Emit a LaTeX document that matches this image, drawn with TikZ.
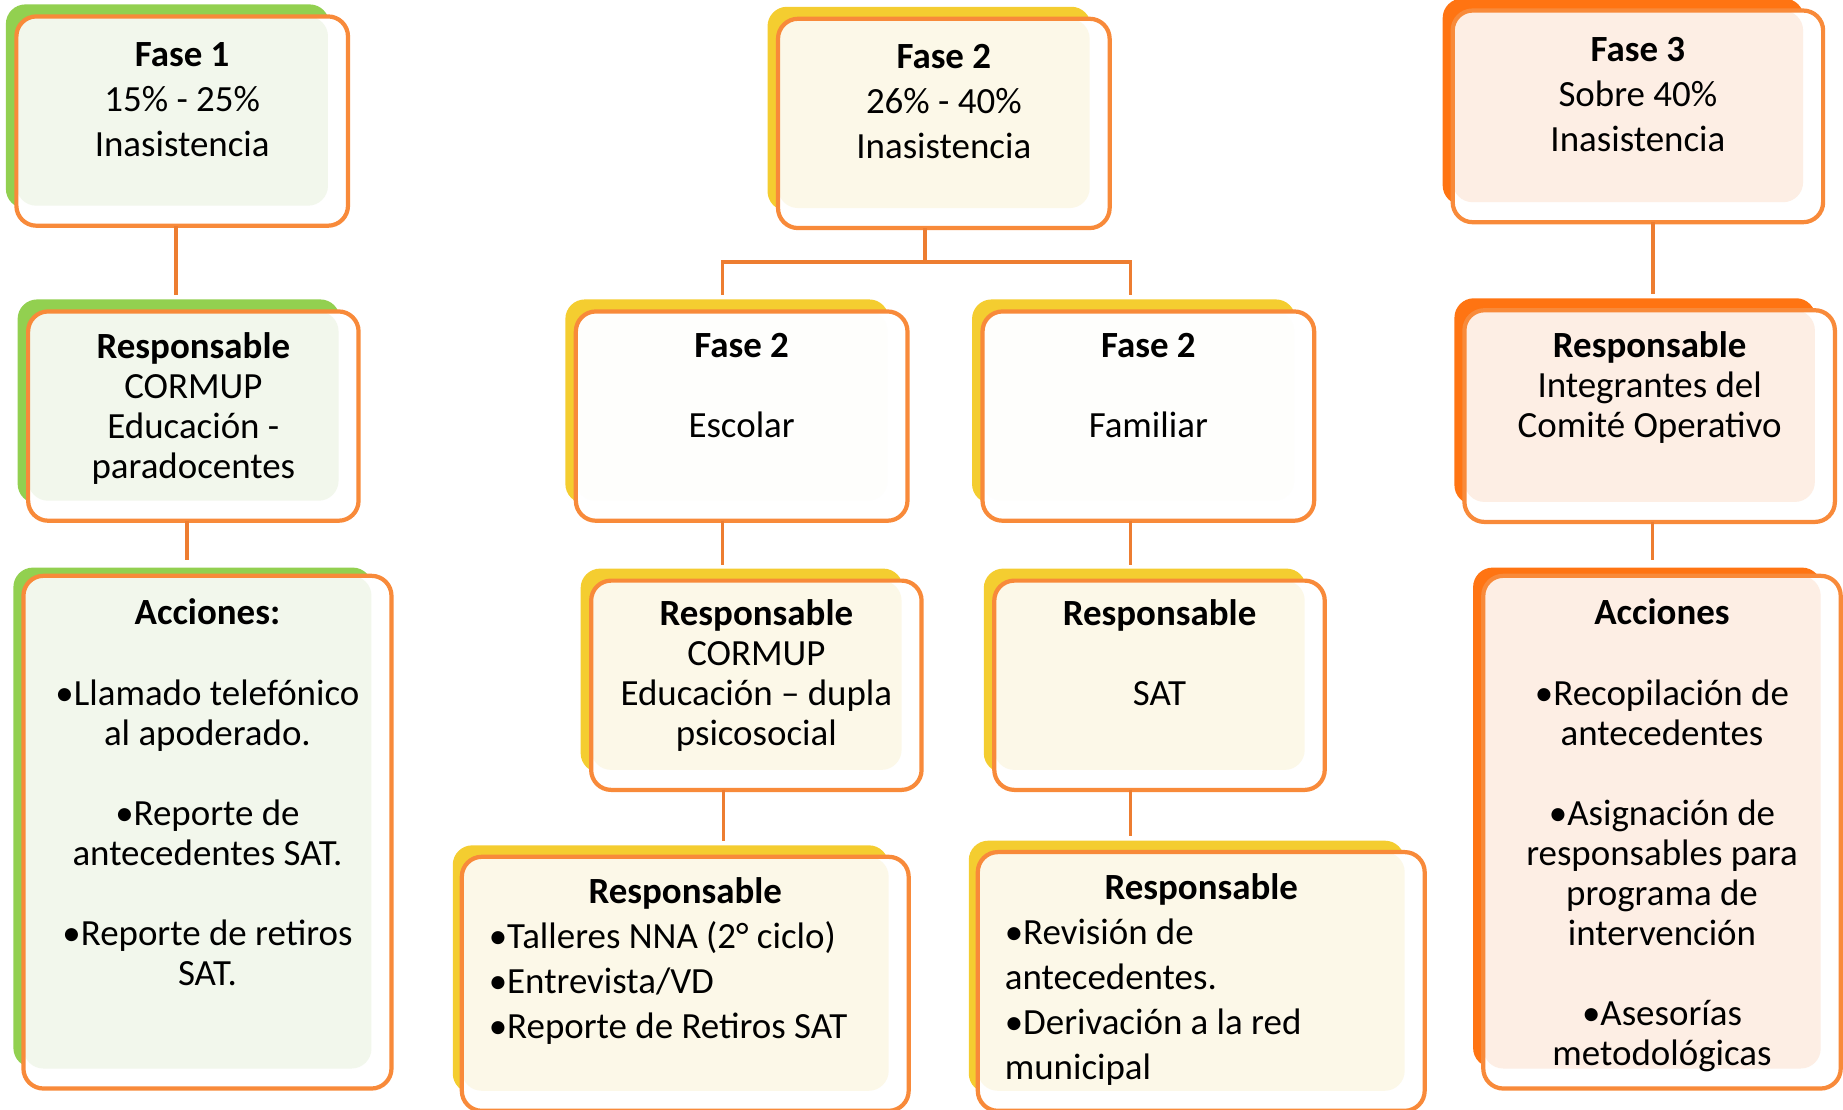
\documentclass[tikz,border=0pt]{standalone}
\usepackage{fontspec}
\setmainfont{Carlito}
\usetikzlibrary{shadows}

\definecolor{phgreen}{HTML}{92D050}
\definecolor{phyellow}{HTML}{F4CD30}
\definecolor{phorange}{HTML}{FF7412}
\definecolor{tintgreen}{HTML}{F2F7EC}
\definecolor{tintyellow}{HTML}{FCF8E8}
\definecolor{tintorange}{HTML}{FDEEE4}
\definecolor{tintwhite}{HTML}{FEFEFC}
\definecolor{edgeorange}{HTML}{F88A3A}
\definecolor{linkorange}{HTML}{ED7D31}

\newcommand{\tight}{\fontsize{10.5}{11.4}\selectfont}
\newcommand{\loose}{\fontsize{10.5}{12.8}\selectfont}
% width, height, first baseline, text
\newcommand{\boxtext}[4]{\parbox[c][#2][t]{#1}{\centering\rule{0pt}{#3}#4}}

\tikzset{
  phase/.style={draw=edgeorange, line width=1.2pt, rounded corners=2mm, fill=white,
    inner sep=0pt, outer sep=0pt, font=\tight,
    general shadow={fill=#1, draw=none, shadow xshift=-1.5mm, shadow yshift=1.5mm, shadow scale=0.975}},
  tint/.style={path picture={\fill[#1, rounded corners=2mm]
      (path picture bounding box.north west) rectangle
      ([shift={(-2mm,2mm)}]path picture bounding box.south east);}},
  link/.style={draw=linkorange, line width=1pt, shorten >=1.6mm},
}

\begin{document}
\begin{tikzpicture}[x=0.011754cm, y=-0.011754cm]
    \useasboundingbox (0,0) rectangle (1568,944);

    % Fase 1
    \node[phase=phgreen, tint=tintgreen, font=\loose] (f1) at (155,103)
        {\boxtext{3.315cm}{2.092cm}{0.5cm}{\textbf{Fase 1}\\15\% - 25\%\\Inasistencia}};
    \node[phase=phgreen, tint=tintgreen] (r1) at (164.5,354)
        {\boxtext{3.303cm}{2.092cm}{0.47cm}{\textbf{Responsable}\\CORMUP\\Educación -\\paradocentes}};
    \node[phase=phgreen, tint=tintgreen] (a1) at (176.5,708)
        {\boxtext{3.679cm}{5.125cm}{0.49cm}{\textbf{Acciones:}\\[\baselineskip]•Llamado telefónico\\al apoderado.\\[\baselineskip]•Reporte de\\antecedentes SAT.\\[\baselineskip]•Reporte de retiros\\SAT.}};

    % Fase 2
    \node[phase=phyellow, tint=tintyellow, font=\loose] (f2) at (803,105)
        {\boxtext{3.315cm}{2.092cm}{0.5cm}{\textbf{Fase 2}\\26\% - 40\%\\Inasistencia}};
    \node[phase=phyellow, tint=tintwhite] (e2) at (631,354)
        {\boxtext{3.315cm}{2.092cm}{0.46cm}{\textbf{Fase 2}\\[\baselineskip]Escolar}};
    \node[phase=phyellow, tint=tintwhite] (m2) at (977,354)
        {\boxtext{3.315cm}{2.092cm}{0.46cm}{\textbf{Fase 2}\\[\baselineskip]Familiar}};
    \node[phase=phyellow, tint=tintyellow] (re2) at (643.5,583)
        {\boxtext{3.303cm}{2.092cm}{0.45cm}{\textbf{Responsable}\\CORMUP\\Educación – dupla\\psicosocial}};
    \node[phase=phyellow, tint=tintyellow] (rm2) at (986.5,583)
        {\boxtext{3.303cm}{2.092cm}{0.45cm}{\textbf{Responsable}\\[\baselineskip]SAT}};
    \node[phase=phyellow, tint=tintyellow, font=\loose] (t2) at (583,837)
        {\boxtext{4.467cm}{2.539cm}{0.47cm}{\textbf{Responsable}\par\raggedright\leftskip=0.27cm
        •Talleres NNA (2° ciclo)\\•Entrevista/VD\\•Reporte de Retiros SAT}};
    \node[phase=phyellow, tint=tintyellow, font=\loose] (rv2) at (1022,835)
        {\boxtext{4.467cm}{2.586cm}{0.47cm}{\textbf{Responsable}\par\raggedright\leftskip=0.27cm
        •Revisión de\\antecedentes.\\•Derivación a la red\\municipal}};

    % Fase 3
    \node[phase=phorange, tint=tintorange, font=\loose] (f3) at (1393.5,99)
        {\boxtext{3.703cm}{2.116cm}{0.51cm}{\textbf{Fase 3}\\Sobre 40\%\\Inasistencia}};
    \node[phase=phorange, tint=tintorange] (r3) at (1403.5,354)
        {\boxtext{3.703cm}{2.116cm}{0.47cm}{\textbf{Responsable}\\Integrantes del\\Comité Operativo}};
    \node[phase=phorange, tint=tintorange] (a3) at (1414,708)
        {\boxtext{3.573cm}{5.125cm}{0.49cm}{\textbf{Acciones}\\[\baselineskip]•Recopilación de\\antecedentes\\[\baselineskip]•Asignación de\\responsables para\\programa de\\intervención\\[\baselineskip]•Asesorías\\metodológicas}};

    % connectors
    \draw[link] ([xshift=-0.06cm]f1.south) -- ([xshift=-0.06cm]f1.south |- r1.north);
    \draw[link] ([xshift=-0.065cm]r1.south) -- ([xshift=-0.065cm]r1.south |- a1.north);
    \draw[link] ([xshift=-0.19cm]f2.south) -- ++(0,29) -| ([xshift=-0.19cm]e2.north);
    \draw[link] ([xshift=-0.19cm]f2.south) -- ++(0,29) -| ([xshift=-0.18cm]m2.north);
    \draw[link] ([xshift=-0.19cm]e2.south) -- ([xshift=-0.19cm]e2.south |- re2.north);
    \draw[link] ([xshift=-0.18cm]m2.south) -- ([xshift=-0.18cm]m2.south |- rm2.north);
    \draw[link] ([xshift=-0.33cm]re2.south) -- ([xshift=-0.33cm]re2.south |- t2.north);
    \draw[link] ([xshift=-0.29cm]rm2.south) -- ([xshift=-0.29cm]rm2.south |- rv2.north);
    \draw[link] ([xshift=0.15cm]f3.south) -- ([xshift=0.15cm]f3.south |- r3.north);
    \draw[link] ([xshift=0.03cm]r3.south) -- ([xshift=0.03cm]r3.south |- a3.north);
\end{tikzpicture}
\end{document}
